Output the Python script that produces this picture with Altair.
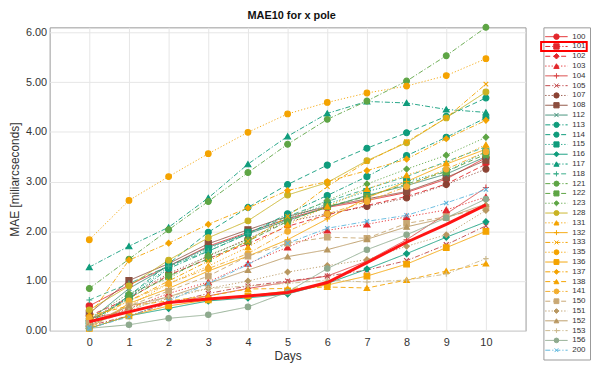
import altair as alt
import pandas as pd

days = list(range(11))
names = ["100", "101", "102", "103", "104", "105", "107", "108", "112", "113", "114",
         "115", "116", "117", "118", "121", "122", "123", "128", "131", "132", "133",
         "135", "136", "137", "138", "141", "150", "151", "152", "153", "156", "200"]

s100 = [0.50, 0.92, 1.30, 1.70, 1.98, 2.25, 2.48, 2.62, 2.78, 3.05, 3.48]
s101 = [0.18, 0.38, 0.57, 0.64, 0.70, 0.77, 0.97, 1.37, 1.78, 2.14, 2.53]
s102 = [0.30, 0.65, 1.12, 1.45, 1.75, 2.10, 2.33, 2.52, 2.70, 2.95, 3.35]
s103 = [0.15, 0.45, 0.75, 0.98, 1.35, 1.68, 2.02, 2.14, 2.29, 2.43, 2.69]
s104 = [0.25, 0.40, 0.55, 0.70, 0.85, 0.98, 1.10, 1.40, 1.83, 2.35, 2.88]
s105 = [0.10, 0.30, 0.55, 0.75, 0.90, 1.00, 1.10, 1.22, 1.41, 1.73, 2.11]
s107 = [0.20, 0.70, 1.15, 1.50, 1.85, 2.20, 2.35, 2.50, 2.67, 2.94, 3.25]
s108 = [0.35, 1.01, 1.35, 1.75, 2.03, 2.30, 2.50, 2.65, 2.80, 3.08, 3.43]
s112 = [0.20, 0.85, 1.30, 1.68, 1.95, 2.22, 2.48, 2.72, 2.92, 3.15, 3.50]
s113 = [0.20, 0.65, 1.25, 1.60, 1.95, 2.35, 2.72, 3.10, 3.52, 3.89, 4.28]
s114 = [0.15, 0.70, 1.35, 1.98, 2.48, 2.94, 3.33, 3.67, 3.98, 4.31, 4.68]
s115 = [0.10, 0.70, 1.28, 1.65, 1.98, 2.25, 2.55, 2.80, 3.00, 3.20, 3.60]
s116 = [0.05, 0.30, 0.45, 0.60, 0.66, 0.74, 0.95, 1.24, 1.55, 1.88, 2.19]
s117 = [1.28, 1.70, 2.08, 2.67, 3.35, 3.91, 4.37, 4.61, 4.58, 4.45, 4.39]
s118 = [0.62, 0.95, 1.30, 1.60, 1.95, 2.30, 2.60, 2.85, 3.10, 3.40, 3.70]
s121 = [0.85, 1.44, 2.03, 2.60, 3.18, 3.75, 4.25, 4.62, 5.02, 5.53, 6.10]
s122 = [0.20, 0.65, 1.10, 1.45, 1.80, 2.20, 2.50, 2.70, 2.95, 3.20, 3.55]
s123 = [0.25, 0.75, 1.05, 1.52, 1.83, 2.25, 2.62, 2.95, 3.25, 3.53, 3.89]
s128 = [0.42, 0.90, 1.42, 1.87, 2.21, 2.73, 2.98, 3.42, 3.78, 4.28, 4.80]
s131 = [0.10, 0.50, 0.95, 1.30, 1.68, 2.13, 2.50, 2.85, 3.13, 3.37, 3.74]
s132 = [0.05, 0.55, 0.85, 1.20, 1.50, 1.83, 2.25, 2.67, 3.00, 3.35, 3.65]
s133 = [0.20, 0.60, 1.00, 1.40, 1.80, 2.30, 2.90, 3.40, 3.80, 4.28, 4.96]
s135 = [1.83, 2.62, 3.10, 3.56, 3.99, 4.36, 4.59, 4.78, 4.92, 5.13, 5.47]
s136 = [0.05, 0.30, 0.50, 0.62, 0.70, 0.80, 0.92, 1.10, 1.34, 1.67, 2.00]
s137 = [0.30, 1.42, 1.76, 2.14, 2.47, 2.82, 3.00, 3.22, 3.45, 3.86, 4.23]
s138 = [0.30, 0.50, 0.60, 0.70, 0.84, 0.85, 0.88, 0.86, 1.02, 1.20, 1.35]
s141 = [0.25, 0.60, 0.95, 1.25, 1.55, 2.00, 2.35, 2.60, 2.90, 3.25, 3.60]
s150 = [0.15, 0.50, 0.80, 1.10, 1.50, 1.76, 1.88, 1.86, 2.16, 2.29, 2.48]
s151 = [0.10, 0.45, 0.65, 0.85, 1.00, 1.18, 1.31, 1.43, 1.70, 1.93, 2.42]
s152 = [0.10, 0.50, 0.68, 0.95, 1.22, 1.49, 1.63, 1.84, 2.09, 2.27, 2.55]
s153 = [0.10, 0.40, 0.70, 0.85, 0.90, 0.95, 1.02, 0.98, 1.02, 1.14, 1.45]
s156 = [0.05, 0.12, 0.25, 0.32, 0.48, 0.78, 1.25, 1.63, 1.93, 2.27, 2.65]
s200 = [0.05, 0.28, 0.60, 0.95, 1.33, 1.76, 2.06, 2.20, 2.32, 2.57, 2.84]

series = [s100, s101, s102, s103, s104, s105, s107, s108, s112, s113, s114,
          s115, s116, s117, s118, s121, s122, s123, s128, s131, s132, s133,
          s135, s136, s137, s138, s141, s150, s151, s152, s153, s156, s200]

# styles
RED, DRED, BRN = "#e3262b", "#c0474a", "#8b4233"
TEAL, TEAL2, TGR = "#0f9c7c", "#3cae8c", "#3f8f76"
GRN, OLV, ORG = "#5ea545", "#c9b324", "#f4a300"
TAN, TAN2, GGR, BLU = "#c9a874", "#b89760", "#8eaa8e", "#5db7dd"
colors = [RED, RED, RED, RED, "#d94444", DRED, BRN, "#8c4e3e", TGR, TEAL, TEAL,
          TEAL, TEAL, TEAL, TEAL2, GRN, GRN, GRN, OLV, ORG, ORG, ORG,
          ORG, ORG, ORG, ORG, "#f2ad2e", TAN, TAN2, TAN2, "#cbb98e", GGR, BLU]

SOL, DSH, DOT, DDT = [1, 0], [5, 3], [1.2, 2], [5, 2, 1.2, 2]
dashes = [SOL, DDT, DSH, DOT, SOL, DDT, DOT, SOL, SOL, DDT, DSH,
          DOT, SOL, DDT, DSH, DDT, DSH, DOT, SOL, DOT, SOL, DDT,
          DOT, SOL, DDT, DSH, DDT, DSH, DOT, SOL, DDT, SOL, DDT]

PLUS = "M-1,0L1,0M0,-1L0,1"
XMK = "M-0.8,-0.8L0.8,0.8M-0.8,0.8L0.8,-0.8"
C, S, D, T = "circle", "square", "diamond", "triangle-up"
shapes = [C, S, D, T, PLUS, XMK, C, S, XMK, C, C,
          S, D, T, PLUS, C, S, D, C, T, PLUS, XMK,
          C, S, D, T, C, S, D, T, PLUS, C, XMK]
sizes = [40, 30, 40, 40, 40, 36, 40, 30, 36, 12, 40,
         30, 40, 40, 40, 40, 30, 40, 40, 40, 40, 36,
         40, 30, 40, 40, 12, 30, 40, 40, 40, 40, 36]
leg_sizes = [30, 22, 30, 30, 30, 26, 30, 22, 26, 10, 30,
             22, 30, 30, 30, 30, 22, 30, 30, 30, 30, 26,
             30, 22, 30, 30, 10, 22, 30, 30, 30, 30, 26]

rows = []
for nm, vals in zip(names, series):
    for d, v in zip(days, vals):
        rows.append({"name": nm, "day": d, "mae": v})
df = pd.DataFrame(rows)

col_scale = alt.Scale(domain=names, range=colors)
dash_scale = alt.Scale(domain=names, range=dashes)
shape_scale = alt.Scale(domain=names, range=shapes)
size_scale = alt.Scale(domain=names, range=sizes)
leg_size_scale = alt.Scale(domain=names, range=leg_sizes)

FONT = "Liberation Sans"
x_enc = alt.X("day:Q", scale=alt.Scale(domain=[-1, 11], nice=False),
              axis=alt.Axis(values=days, labelOverlap=False, labelFlush=False,
                            title="Days", ticks=False, domain=False, gridColor="#e6e6e6",
                            labelFontSize=11, titleFontSize=12, titleFontWeight="normal",
                            labelColor="#333333", titleColor="#333333",
                            labelPadding=6, titlePadding=3, labelFont=FONT,
                            titleFont=FONT))
y_enc = alt.Y("mae:Q", scale=alt.Scale(domain=[0, 6.1], nice=False),
              axis=alt.Axis(values=[0, 1, 2, 3, 4, 5, 6], format=".2f",
                            title="MAE [miliarcseconds]", ticks=False, domain=False,
                            gridColor="#e6e6e6", labelFontSize=11, titleFontSize=12,
                            titleFontWeight="normal", labelColor="#333333",
                            titleColor="#333333", labelPadding=3, titlePadding=4,
                            labelFont=FONT, titleFont=FONT))

base = alt.Chart(df)
others = base.transform_filter(alt.datum.name != "101")

lines = others.mark_line(strokeWidth=1, opacity=0.9).encode(
    x=x_enc, y=y_enc,
    color=alt.Color("name:N", scale=col_scale, legend=None),
    strokeDash=alt.StrokeDash("name:N", scale=dash_scale, legend=None),
)
points = others.mark_point(filled=True, strokeWidth=1.1, opacity=1).encode(
    x="day:Q", y="mae:Q",
    fill=alt.Fill("name:N", scale=col_scale, legend=None),
    stroke=alt.Stroke("name:N", scale=col_scale, legend=None),
    shape=alt.Shape("name:N", scale=shape_scale, legend=None),
    size=alt.Size("name:N", scale=size_scale, legend=None),
)
thick = base.transform_filter(alt.datum.name == "101").mark_line(
    strokeWidth=3, color="#ff1414").encode(x="day:Q", y="mae:Q")

main = alt.layer(lines, points, thick).properties(width=480, height=306)

# custom legend panel
leg_df = pd.DataFrame({"name": names})
ly = alt.Y("name:N", sort=names, scale=alt.Scale(domain=names, padding=0.9), axis=None)
lx = alt.Scale(domain=[0, 1], nice=False)
lbase = alt.Chart(leg_df)
leg_lines = lbase.mark_rule(strokeWidth=1).encode(
    x=alt.datum(0.04, scale=lx, axis=None), x2=alt.datum(0.52), y=ly,
    color=alt.Color("name:N", scale=col_scale, legend=None),
    strokeDash=alt.StrokeDash("name:N", scale=dash_scale, legend=None),
)
leg_pts = lbase.mark_point(filled=True, strokeWidth=1, opacity=1).encode(
    x=alt.datum(0.28, scale=lx, axis=None), y=ly,
    fill=alt.Fill("name:N", scale=col_scale, legend=None),
    stroke=alt.Stroke("name:N", scale=col_scale, legend=None),
    shape=alt.Shape("name:N", scale=shape_scale, legend=None),
    size=alt.Size("name:N", scale=leg_size_scale, legend=None),
)
leg_txt = lbase.mark_text(align="left", baseline="middle", fontSize=8,
                          color="#333333", font=FONT).encode(
    x=alt.datum(0.62, scale=lx, axis=None), y=ly, text="name:N")
leg_box = lbase.transform_filter(alt.datum.name == "101").mark_point(
    shape="M-1,-0.2H1V0.2H-1Z", size=2116, filled=False, stroke="#ff0000",
    strokeWidth=2, opacity=1).encode(x=alt.datum(0.44, scale=lx, axis=None), y=ly)

legend = alt.layer(leg_lines, leg_pts, leg_txt, leg_box).properties(width=47, height=335)

chart = alt.hconcat(main, legend, spacing=10).resolve_scale(size="independent").properties(
    title=alt.Title("MAE10 for x pole", fontSize=11, fontWeight="bold", color="#111111",
                    font=FONT, anchor="middle", dx=-8, offset=1),
    padding=0,
).configure_view(stroke="#9a9a9a", strokeWidth=1)

chart.save("out.html", embed_options={"renderer": "svg", "actions": False})
